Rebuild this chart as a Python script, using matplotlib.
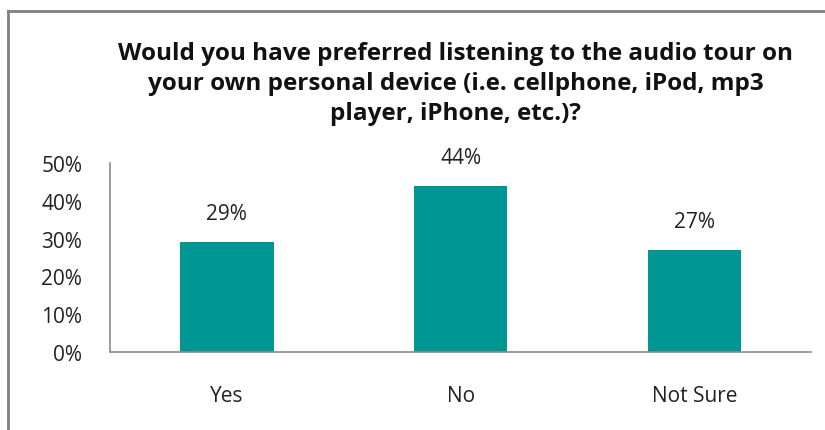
import matplotlib.pyplot as plt
from matplotlib.lines import Line2D

categories = ["Yes", "No", "Not Sure"]
values = [29, 44, 27]
title = ("Would you have preferred listening to the audio tour on\n"
         "your own personal device (i.e. cellphone, iPod, mp3\n"
         "player, iPhone, etc.)?")

plt.rcParams["font.family"] = ["Open Sans", "DejaVu Sans"]

fig = plt.figure(figsize=(8.25, 4.31), dpi=100)
ax = fig.add_axes([0.1333, 0.181, 0.850, 0.4385])

x = range(len(categories))
ax.bar(x, values, width=0.4, color="#009694")
for i, v in enumerate(values):
    ax.text(i, v + 4.8, "%d%%" % v, ha="center", va="bottom",
            fontsize=15, color="#222222")

ax.set_xlim(-0.5, len(categories) - 0.5)
ax.set_ylim(0, 50)
ax.set_yticks(range(0, 51, 10))
ax.set_yticklabels(["%d%%" % t for t in range(0, 51, 10)])
ax.set_xticks(list(x))
ax.set_xticklabels(categories)
ax.tick_params(axis="both", length=0, labelsize=15, colors="#222222")
ax.tick_params(axis="x", pad=24)
ax.tick_params(axis="y", pad=20)

for s in ["top", "right"]:
    ax.spines[s].set_visible(False)
for s in ["left", "bottom"]:
    ax.spines[s].set_color("#8c8c8c")
    ax.spines[s].set_linewidth(1.2)

fig.text(0.552, 0.805, title, ha="center", va="center", fontsize=17.5,
         fontweight="bold", linespacing=1.35, color="#111111")

# chart frame
fig.add_artist(Line2D([0.0103, 0.0103], [0, 0.973], transform=fig.transFigure,
                      color="#7f7f7f", linewidth=2))
fig.add_artist(Line2D([0.0103, 1.0], [0.973, 0.973], transform=fig.transFigure,
                      color="#7f7f7f", linewidth=2))

fig.savefig("out.png", dpi=100)
